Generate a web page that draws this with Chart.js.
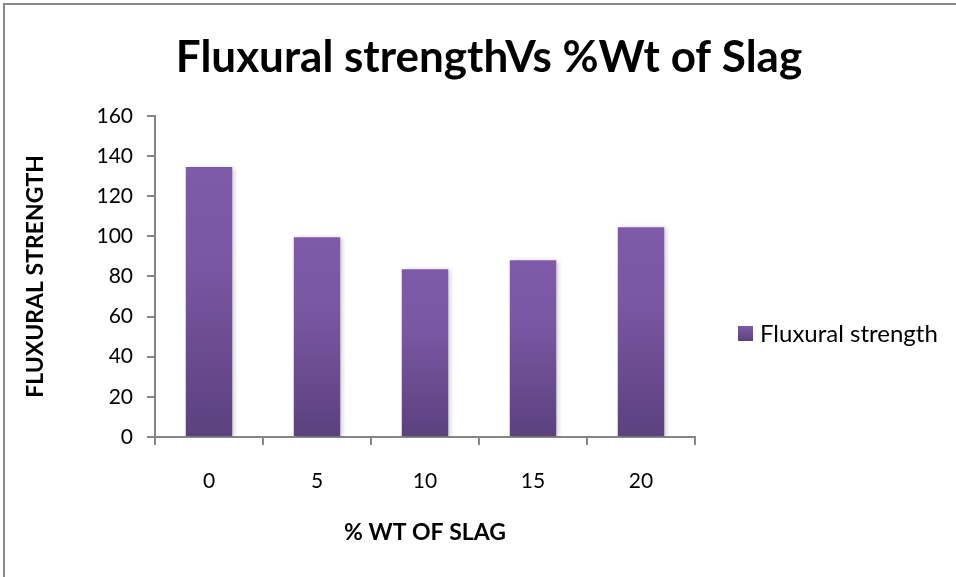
<!DOCTYPE html>
<html>
<head>
<meta charset="utf-8">
<script src="https://cdn.jsdelivr.net/npm/chart.js@4.4.1/dist/chart.umd.min.js"></script>
<style>
  html, body { margin: 0; padding: 0; background: #fff; }
  #wrap { position: relative; width: 956px; height: 577px; }
  canvas { display: block; }
</style>
</head>
<body>
<div id="wrap"><canvas id="c" width="956" height="577"></canvas></div>
<script>
const categories = ['0', '5', '10', '15', '20'];
const strengthValues = [134.5, 99.5, 83.6, 88.1, 104.5];
const yTicks = [0, 20, 40, 60, 80, 100, 120, 140, 160];
const seriesName = 'Fluxural strength';
const chartTitle = 'Fluxural strengthVs %Wt of Slag';
const xTitle = '% WT OF SLAG';
const yTitle = 'FLUXURAL STRENGTH';

const FONT = 'Lato, "Open Sans", sans-serif';
const AXIS = '#868686';

function barGradient(ctx) {
  const chart = ctx.chart;
  const area = chart.chartArea;
  if (!area || ctx.type !== 'data') return '#7B58A5';
  const y = chart.scales.y;
  const top = y.getPixelForValue(ctx.parsed ? ctx.parsed.y : strengthValues[ctx.dataIndex]);
  const base = y.getPixelForValue(0);
  const g = chart.ctx.createLinearGradient(0, top, 0, base);
  g.addColorStop(0, '#7E5AA9');
  g.addColorStop(0.35, '#7A57A3');
  g.addColorStop(1, '#5B417E');
  return g;
}

const frame = {
  id: 'frame',
  beforeDraw(chart) {
    const c = chart.ctx;
    c.save();
    c.fillStyle = '#fff';
    c.fillRect(0, 0, chart.width, chart.height);
    c.strokeStyle = '#8a8a8a';
    c.lineWidth = 2;
    c.beginPath();
    c.moveTo(4, chart.height);
    c.lineTo(4, 4);
    c.lineTo(chart.width, 4);
    c.stroke();
    c.restore();
  },
  beforeDatasetsDraw(chart) {
    const c = chart.ctx;
    c.save();
    c.shadowColor = 'rgba(0,0,0,0.25)';
    c.shadowBlur = 5;
    c.shadowOffsetX = 2;
    c.shadowOffsetY = 1;
  },
  afterDatasetsDraw(chart) {
    chart.ctx.restore();
  },
  afterDraw(chart) {
    const c = chart.ctx;
    c.save();
    const bx = 738, by = 326;
    const g = c.createLinearGradient(0, by, 0, by + 15);
    g.addColorStop(0, '#7E5AA9');
    g.addColorStop(1, '#5B417E');
    c.fillStyle = g;
    c.fillRect(bx, by, 15, 15);
    c.fillStyle = '#000';
    c.font = '24px ' + FONT;
    c.textBaseline = 'middle';
    c.textAlign = 'left';
    c.fillText(seriesName, 760, by + 8);
    c.restore();
  }
};

new Chart(document.getElementById('c'), {
  type: 'bar',
  data: {
    labels: categories,
    datasets: [{
      label: seriesName,
      data: strengthValues,
      backgroundColor: barGradient,
      borderWidth: 0,
      categoryPercentage: 1.0,
      barPercentage: 0.43
    }]
  },
  options: {
    responsive: false,
    animation: false,
    events: [],
    layout: { padding: { left: 22, right: 0, top: 0, bottom: 0 } },
    plugins: {
      legend: { display: false },
      tooltip: { enabled: false },
      title: {
        display: true,
        text: chartTitle,
        color: '#000',
        font: { family: FONT, size: 44, weight: 'bold' },
        padding: { top: 31, bottom: 32 }
      }
    },
    scales: {
      x: {
        grid: { display: true, drawOnChartArea: false, drawTicks: true, tickLength: 8, color: AXIS, lineWidth: 2, offset: true },
        border: { display: true, color: AXIS, width: 2 },
        ticks: { color: '#000', font: { family: FONT, size: 21 }, padding: 24 },
        title: { display: true, text: xTitle, color: '#000', font: { family: FONT, size: 23, weight: 'bold' }, padding: { top: 0, bottom: 31 } },
        afterFit(s) { s.height = 140; }
      },
      y: {
        min: 0, max: 160,
        afterBuildTicks(s) { s.ticks = yTicks.map(v => ({ value: v })); },
        grid: { display: true, drawOnChartArea: false, drawTicks: true, tickLength: 8, color: AXIS, lineWidth: 2 },
        border: { display: true, color: AXIS, width: 2 },
        ticks: { color: '#000', font: { family: FONT, size: 21 }, padding: 14 },
        title: { display: true, text: yTitle, color: '#000', font: { family: FONT, size: 23, weight: 'bold' }, padding: { top: 0, bottom: 0 } },
        afterFit(s) { s.width = 133; }
      },
      legendSpace: {
        type: 'linear',
        position: 'right',
        display: true,
        grid: { display: false },
        border: { display: false },
        ticks: { display: false },
        afterFit(s) { s.width = 261; }
      }
    }
  },
  plugins: [frame]
});
</script>
</body>
</html>
